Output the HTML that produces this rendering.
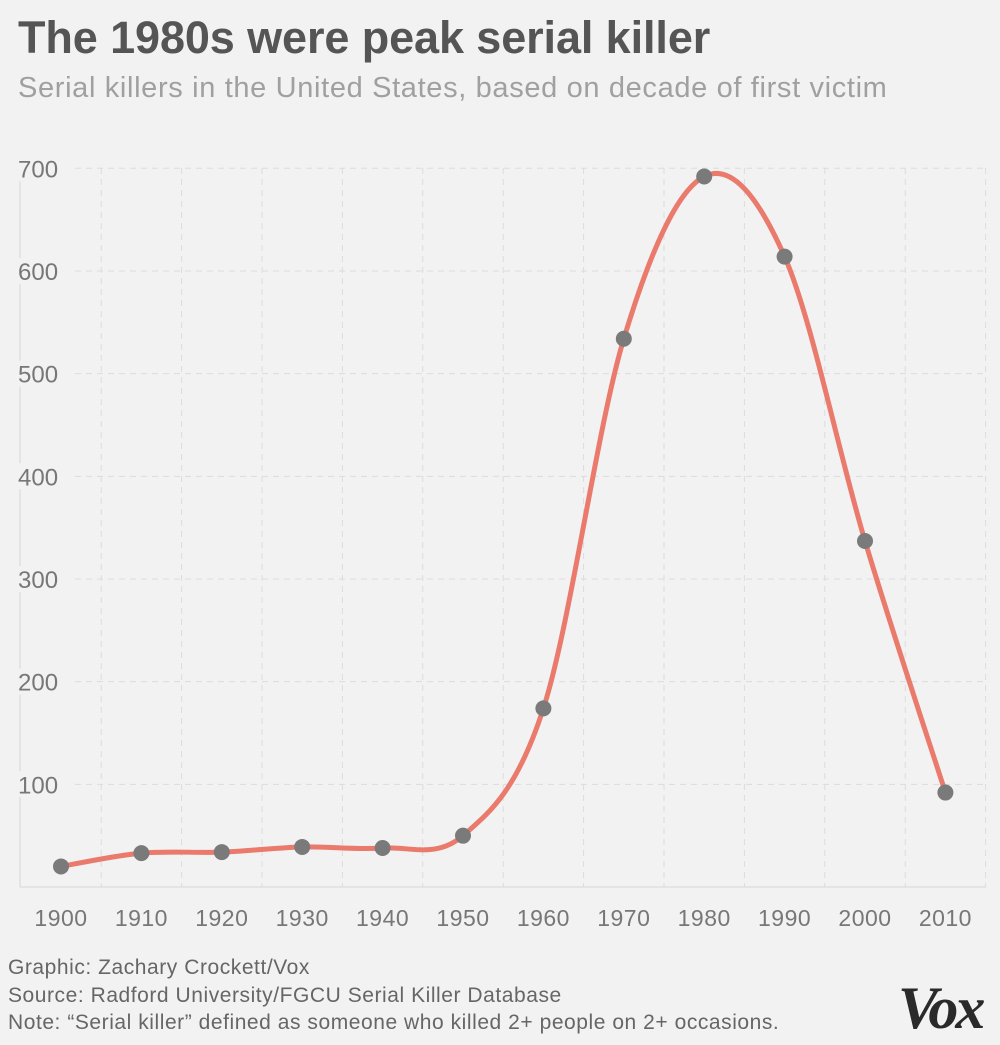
<!DOCTYPE html>
<html><head><meta charset="utf-8"><style>
html,body{margin:0;padding:0;background:#f2f2f2;}
body{width:1000px;height:1045px;position:relative;overflow:hidden;font-family:"Liberation Sans",sans-serif;}
.t{position:absolute;left:18px;top:12px;font-size:45px;font-weight:bold;color:#555;letter-spacing:-0.1px;}
.s{position:absolute;left:18px;top:72px;font-size:29px;color:#a0a0a0;letter-spacing:0.65px;}
.f{position:absolute;left:8px;font-size:21px;color:#666;letter-spacing:0.55px;}
.vox{position:absolute;left:898px;top:974px;font-family:"Liberation Serif",serif;font-weight:bold;font-style:italic;font-size:60px;color:#2a2a2a;letter-spacing:-3px;}
</style></head><body>
<div class="t">The 1980s were peak serial killer</div>
<div class="s">Serial killers in the United States, based on decade of first victim</div>
<svg width="1000" height="1045" style="position:absolute;left:0;top:0" id="c">
<g id="grid" stroke="#dcdcdc" stroke-width="1" stroke-dasharray="6,5" fill="none"></g>
<path d="M20,168 V887 H986" stroke="#d6d6d6" fill="none"/>
<g id="yl" font-family="Liberation Sans" font-size="24" fill="#777"></g>
<g id="xl" font-family="Liberation Sans" font-size="23" fill="#777" text-anchor="middle" letter-spacing="0.5"></g>
<path id="ln" stroke="#ea7a6c" stroke-width="5" fill="none" stroke-linecap="round"/>
<g id="pts" fill="#7a7a7a"></g>
</svg>
<div class="f" style="top:956px">Graphic: Zachary Crockett/Vox</div>
<div class="f" style="top:984px">Source: Radford University/FGCU Serial Killer Database</div>
<div class="f" style="top:1011px">Note: “Serial killer” defined as someone who killed 2+ people on 2+ occasions.</div>
<div class="vox">Vox</div>
<script>
var ns="http://www.w3.org/2000/svg";
function el(p,t,a,txt){var e=document.createElementNS(ns,t);for(var k in a)e.setAttribute(k,a[k]);if(txt!=null)e.textContent=txt;p.appendChild(e);return e;}
var X=function(i){return 61+i*80.4;};
var Y=function(v){return 887-v*1.0267;};
var g=document.getElementById('grid'),yl=document.getElementById('yl'),xl=document.getElementById('xl');
for(var v=100;v<=700;v+=100){var y=Y(v);el(g,'line',{x1:20,x2:986,y1:y,y2:y});
 el(yl,'rect',{x:16,y:y-13,width:58,height:26,fill:'#f2f2f2'});
 el(yl,'text',{x:18,y:y+9},v);}
for(var i=0;i<12;i++){var x=X(i)+40.2;if(x<986)el(g,'line',{x1:x,x2:x,y1:168,y2:887});
 el(xl,'text',{x:X(i),y:926},1900+i*10);}
var d=[20,33,34,39,38,50,174,534,692,614,337,92];
var P=d.map(function(v,i){return [X(i),Y(v)];});
var s="M"+P[0][0]+","+P[0][1];
for(var i=0;i<P.length-1;i++){var p0=P[Math.max(0,i-1)],p1=P[i],p2=P[i+1],p3=P[Math.min(P.length-1,i+2)];
 var t=1/6;
 s+=" C"+(p1[0]+(p2[0]-p0[0])*t)+","+(p1[1]+(p2[1]-p0[1])*t)+" "+(p2[0]-(p3[0]-p1[0])*t)+","+(p2[1]-(p3[1]-p1[1])*t)+" "+p2[0]+","+p2[1];}
document.getElementById('ln').setAttribute('d',s);
var pts=document.getElementById('pts');
P.forEach(function(p){el(pts,'circle',{cx:p[0],cy:p[1],r:8});});
</script>
</body></html>
